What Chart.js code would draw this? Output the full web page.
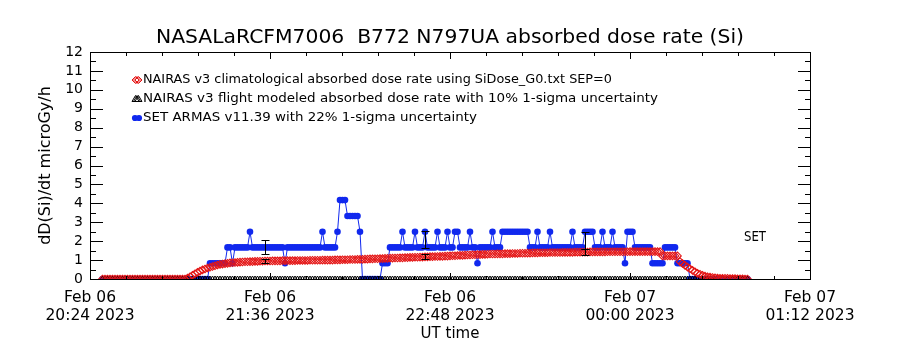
<!DOCTYPE html>
<html><head><meta charset="utf-8">
<script src="https://cdn.jsdelivr.net/npm/chart.js@4.4.1/dist/chart.umd.min.js"></script>
<style>html,body{margin:0;padding:0;background:#fff;}canvas{display:block;}</style>
</head><body>
<canvas id="c" width="900" height="350"></canvas>
<script>
// ---------------- data (minutes after Feb 06 20:24 UT) ----------------
const chartTitle = 'NASALaRCFM7006  B772 N797UA absorbed dose rate (Si)';
const yTitle = 'dD(Si)/dt microGy/h';
const xTitle = 'UT time';
const legendLabels = [
  'NAIRAS v3 climatological absorbed dose rate using SiDose_G0.txt SEP=0',
  'NAIRAS v3 flight modeled absorbed dose rate with 10% 1-sigma uncertainty',
  'SET ARMAS v11.39 with 22% 1-sigma uncertainty'
];
const sideNote = 'SET';

const firstMinute = 5;          // first sample, 1-minute cadence
const sampleCount = 259;
const minutes = Array.from({length: sampleCount}, (_, i) => firstMinute + i);

// NAIRAS climatological dose rate, one value per sample
const climatological = [
  0,0,0,0,0,0,0,0,0,0, 0,0,0,0,0,0,0,0,0,0, 0,0,0,0,0,0,0,0,0,0, 0,0,0,0,
  0.05,0.12,0.20,0.28,0.35,0.42,0.48,0.53,0.58,0.62, 0.66,0.70,0.74,0.77,0.79,0.81,0.83,0.85,0.86,0.87,
  0.88,0.89,0.90,0.91,0.91,0.92,0.92,0.93,0.93,0.94,
  0.94,0.95,0.95,0.95,0.96,0.96,0.96,0.96,0.97,0.97,0.97,0.97,
  0.97,0.97,0.98,0.98,0.98,0.98,0.98,0.99,0.99,0.99,0.99,0.99,1.00,1.00,1.00,
  1.00,1.00,1.01,1.01,1.01,1.02,1.02,1.02,1.03,1.03,1.03,1.04,1.04,
  1.04,1.05,1.05,1.06,1.06,1.07,1.07,1.08,1.08,1.09, 1.09,1.10,1.10,1.11,1.11,1.12,1.12,1.13,1.13,1.14,
  1.14,1.15,1.15,1.16,1.16,1.17,1.17,1.18,1.18,1.19, 1.19,1.20,
  1.20,1.21,1.21,1.22,1.23,1.23,1.24,1.25,1.25,1.26, 1.27,1.27,1.28,1.28,1.29,1.29,1.30,1.30,1.31,1.32,
  1.32,1.32,1.33,1.33,1.33,1.34,1.34,1.34,1.35,1.35, 1.35,1.36,1.36,1.36,1.37,1.37,1.38,1.38,1.38,1.39,
  1.39,1.39,1.39,1.40,1.40,1.40,1.40,1.40,1.41,1.41, 1.41,1.41,1.41,1.42,1.42,1.42,1.42,1.42,1.42,1.43,
  1.43,1.43,1.43,1.43,
  1.43,1.43,1.44,1.44,1.44,1.44,1.44,1.44,1.44,1.44, 1.44,1.45,1.45,1.45,1.45,1.45,1.45,1.45,1.45,1.45,
  1.45,1.45,1.45,1.45,
  1.22,1.22,1.22,1.22,1.22,1.22,1.22,
  0.92,0.82,0.72,0.63,0.54,0.46,0.38,0.30,0.25,0.20, 0.15,0.12,0.10,0.08,0.06,
  0.05,0.04,0.04,0.03,0.03,0.02,0.02,0.02,0.01,0.01,0.01,0,0
];

// NAIRAS flight modeled series (plotted on the zero line): level, run length in samples
const flightLevels = [0];
const flightRuns   = [259];

// SET ARMAS dose rate, quantised steps: level, run length in samples
const setLevels = [0,0.83,1.67,0.83,1.67,2.5,1.67,0.83,1.67,2.5,1.67,2.5,4.17,3.33,2.5,0,0.83,1.67,2.5,1.67,
  2.5,1.67,2.5,1.67,2.5,1.67,2.5,1.67,2.5,1.67,2.5,1.67,0.83,1.67,2.5,1.67,2.5,1.67,2.5,1.67,
  2.5,1.67,2.5,1.67,2.5,1.67,2.5,1.67,2.5,1.67,0.83,2.5,1.67,0.83,1.67,0.83,0];
const setRuns   = [43,7,2,1,6,1,13,1,14,1,5,1,3,5,1,8,3,5,1,4,
  1,3,1,4,1,3,1,2,2,4,1,2,1,5,1,3,11,3,1,4,
  1,8,1,4,4,3,1,3,1,4,1,3,7,5,5,5,24];

// error bars
const errMinutes      = [70, 134, 198];
const setErrCenter    = [1.69, 2.10, 2.04];
const flightErrCenter = [0.96, 1.19, 1.43];
const setUncertainty = 0.22, flightUncertainty = 0.10;

// axes
const xTickValues = [0, 72, 144, 216, 288];
const xTickLabels = [['Feb 06','20:24 2023'],['Feb 06','21:36 2023'],['Feb 06','22:48 2023'],['Feb 07','00:00 2023'],['Feb 07','01:12 2023']];
const yTickValues = [0,1,2,3,4,5,6,7,8,9,10,11,12];

// ---------------- build ----------------
function expand(levels, runs) { const out = []; levels.forEach((v, i) => { for (let k = 0; k < runs[i]; k++) out.push(v); }); return out; }
const setValues = expand(setLevels, setRuns);
const flightValues = expand(flightLevels, flightRuns);
const pts = vals => vals.map((v, i) => ({x: minutes[i], y: v}));

const FONT = '"DejaVu Sans", sans-serif';
const RED = 'rgb(228,22,22)', BLUE = 'rgb(16,40,238)';

function fitText(ctx, text, x, y, w, font, align) {
  ctx.font = font;
  const m = ctx.measureText(text).width;
  const s = w / m;
  ctx.save();
  ctx.translate(align === 'center' ? x - w / 2 : x, y);
  ctx.scale(s, 1);
  ctx.textAlign = 'left';
  ctx.textBaseline = 'middle';
  ctx.fillText(text, 0, 0);
  ctx.restore();
}

const overlay = {
  id: 'overlay',
  afterDatasetsDraw(chart) {
    const {ctx, chartArea: a, scales: {x, y}} = chart;
    ctx.save();
    ctx.fillStyle = '#000';
    ctx.strokeStyle = '#000';
    ctx.lineWidth = 1;
    // error bars
    const bar = (t, c, frac) => {
      const px = Math.round(x.getPixelForValue(t)) + 0.5;
      const y1 = Math.round(y.getPixelForValue(c * (1 + frac))) + 0.5;
      const y2 = Math.round(y.getPixelForValue(c * (1 - frac))) + 0.5;
      ctx.beginPath();
      ctx.moveTo(px, y1); ctx.lineTo(px, y2);
      ctx.moveTo(px - 4, y1); ctx.lineTo(px + 4, y1);
      ctx.moveTo(px - 4, y2); ctx.lineTo(px + 4, y2);
      ctx.stroke();
    };
    errMinutes.forEach((t, i) => { bar(t, setErrCenter[i], setUncertainty); bar(t, flightErrCenter[i], flightUncertainty); });
    // frame
    const L = Math.round(a.left), R = Math.round(a.right), T = Math.round(a.top), B = Math.round(a.bottom);
    ctx.fillRect(L, T, R - L + 1, 1);
    ctx.fillRect(L, B, R - L + 1, 1);
    ctx.fillRect(L, T, 1, B - T + 1);
    ctx.fillRect(R, T, 1, B - T + 1);
    // y ticks (inward, both sides), minor at half units
    for (let k = 0; k < yTickValues.length * 2 - 1; k++) {
      const v = yTickValues[0] + k / 2;
      const py = Math.round(y.getPixelForValue(v));
      const len = k % 2 === 0 ? 13 : 6;
      ctx.fillRect(L, py, len, 1);
      ctx.fillRect(R - len + 1, py, len, 1);
    }
    // x ticks (inward, top and bottom): 5 minor intervals per major
    for (let k = 0; k <= 20; k++) {
      const t = xTickValues[0] + k * (xTickValues[1] - xTickValues[0]) / 5;
      const px = Math.round(x.getPixelForValue(t));
      const len = k % 5 === 0 ? 7 : 4;
      ctx.fillRect(px, B - len + 1, 1, len);
      ctx.fillRect(px, T, 1, len);
    }
    // legend
    const lx = 137, ly = [80, 99, 118], tx = 143;
    ctx.strokeStyle = RED;
    for (const dx of [-1.5, 0, 1.5]) {
      ctx.beginPath();
      ctx.moveTo(lx + dx - 3.5, ly[0]); ctx.lineTo(lx + dx, ly[0] - 3.5); ctx.lineTo(lx + dx + 3.5, ly[0]); ctx.lineTo(lx + dx, ly[0] + 3.5); ctx.closePath();
      ctx.stroke();
    }
    ctx.strokeStyle = '#000';
    for (const dx of [-1.5, 0, 1.5]) {
      ctx.beginPath();
      ctx.moveTo(lx + dx, ly[1] - 3.5); ctx.lineTo(lx + dx + 3.5, ly[1] + 2.5); ctx.lineTo(lx + dx - 3.5, ly[1] + 2.5); ctx.closePath();
      ctx.stroke();
    }
    ctx.fillStyle = BLUE;
    for (const dx of [-2, 2]) { ctx.beginPath(); ctx.arc(lx + dx, ly[2], 3.1, 0, Math.PI * 2); ctx.fill(); }
    ctx.fillStyle = '#000';
    fitText(ctx, legendLabels[0], tx, ly[0], 469, '13px ' + FONT);
    fitText(ctx, legendLabels[1], tx, ly[1], 515, '13px ' + FONT);
    fitText(ctx, legendLabels[2], tx, ly[2], 334, '13px ' + FONT);
    fitText(ctx, sideNote, 744, 237, 22, '14px ' + FONT);
    // title
    fitText(ctx, chartTitle, (L + R) / 2, 38, 588, '19.5px ' + FONT, 'center');
    ctx.restore();
  }
};

new Chart(document.getElementById('c'), {
  type: 'scatter',
  data: {
    datasets: [
      { label: legendLabels[0], data: pts(climatological), showLine: false, pointStyle: 'rectRot', pointRadius: 3.8,
        pointBorderWidth: 1.1, borderColor: RED, backgroundColor: 'rgba(0,0,0,0)', clip: 0 },
      { label: legendLabels[1], data: pts(flightValues), showLine: false, pointStyle: 'triangle', pointRadius: 3,
        pointBorderWidth: 1, borderColor: '#000', backgroundColor: 'rgba(0,0,0,0)', clip: 0 },
      { label: legendLabels[2], data: pts(setValues), showLine: true, borderWidth: 1, borderColor: BLUE,
        backgroundColor: BLUE, pointStyle: 'circle', pointRadius: 3.3, pointBorderWidth: 0, clip: 0 }
    ]
  },
  options: {
    responsive: false, animation: false, devicePixelRatio: 1,
    layout: { padding: { top: 52, right: 90, left: 0, bottom: 0 } },
    plugins: { legend: { display: false }, tooltip: { enabled: false }, title: { display: false } },
    scales: {
      x: {
        type: 'linear', min: xTickValues[0], max: xTickValues[xTickValues.length - 1],
        afterFit: s => { s.height = 71; },
        afterBuildTicks: s => { s.ticks = xTickValues.map(v => ({value: v})); },
        grid: { display: false, drawTicks: false }, border: { display: false },
        ticks: { autoSkip: false, maxRotation: 0, padding: 10, color: '#000',
          font: { family: FONT, size: 15.5, lineHeight: 1.15 },
          callback: (v) => xTickLabels[xTickValues.indexOf(v)] },
        title: { display: true, text: xTitle, color: '#000', font: { family: FONT, size: 15 }, padding: { top: 0, bottom: 7 } }
      },
      y: {
        min: yTickValues[0], max: yTickValues[yTickValues.length - 1],
        afterFit: s => { s.width = 90; },
        afterBuildTicks: s => { s.ticks = yTickValues.map(v => ({value: v})); },
        grid: { display: false, drawTicks: false }, border: { display: false },
        ticks: { autoSkip: false, padding: 7, color: '#000', font: { family: FONT, size: 14 } },
        title: { display: true, text: yTitle, color: '#000', font: { family: FONT, size: 16 }, padding: { top: 36, bottom: 0 } }
      }
    }
  },
  plugins: [overlay]
});
</script>
</body></html>
